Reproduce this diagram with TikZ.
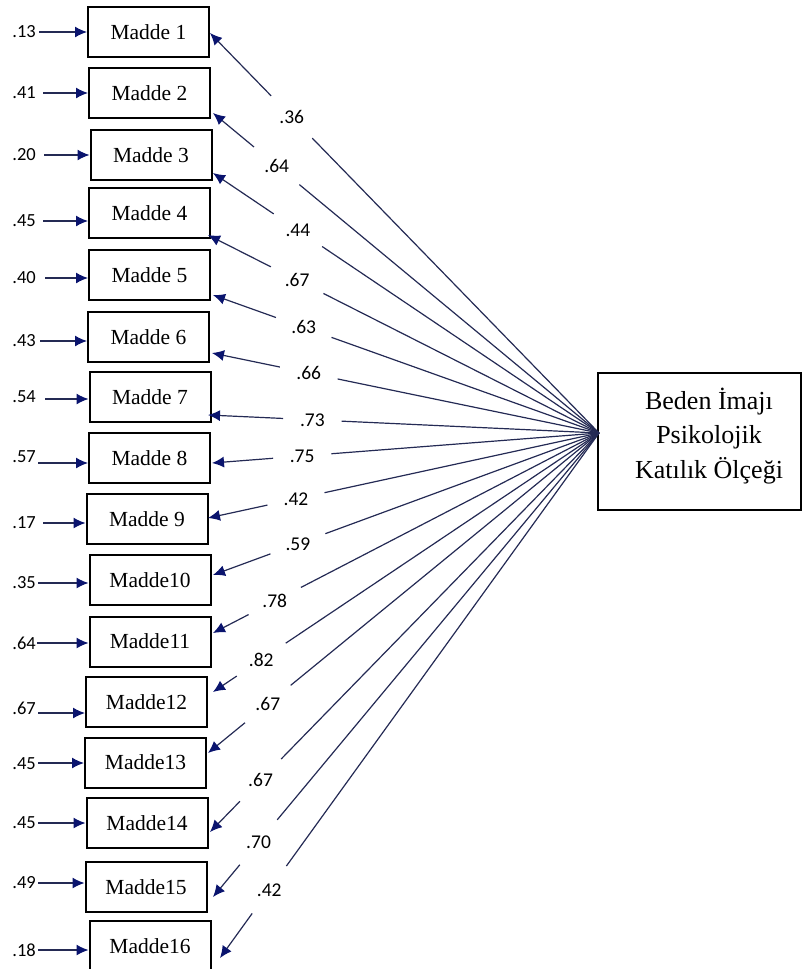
\documentclass[tikz,border=0pt]{standalone}
\usepackage{fontspec}
\setmainfont{Liberation Serif}
\newfontfamily\numfont{Carlito}
\usetikzlibrary{arrows.meta,calc}
\definecolor{lineclr}{RGB}{36,42,84}
\definecolor{tipclr}{RGB}{10,20,110}
\begin{document}
\begin{tikzpicture}[x=1pt,y=-1pt,
  item/.style={draw=black, line width=2pt, minimum width=121pt, minimum height=50pt,
    inner sep=0pt, fill=white, font=\fontsize{21.5}{24}\selectfont},
  bigbox/.style={draw=black, line width=2pt, minimum width=203pt, minimum height=137pt, inner sep=0pt},
  bigtext/.style={align=center, inner sep=0pt, font=\fontsize{26}{34.5}\selectfont},
  errlbl/.style={font=\numfont\fontsize{18.5}{20}\selectfont, anchor=east, inner sep=1pt},
  loadlbl/.style={circle, inner sep=11pt, font=\numfont\fontsize{19.5}{21}\selectfont},
  errarr/.style={draw=lineclr, line width=1.3pt, -{Latex[length=12pt,width=11pt,color=tipclr]}},
  conn/.style={draw=lineclr, line width=1.2pt},
  connarr/.style={conn, -{Latex[length=12pt,width=11pt,color=tipclr]}},
]
\useasboundingbox (0,0) rectangle (803,969);

% item boxes
\foreach \i/\x/\y/\t in {
  1/148.5/32/Madde 1, 2/149.5/93/Madde 2, 3/151/155/Madde 3, 4/149.5/213/Madde 4,
  5/149.5/275/Madde 5, 6/148.5/337/Madde 6, 7/150/397/Madde 7, 8/149.5/458/Madde 8,
  9/147/519/Madde 9, 10/150/580/Madde10, 11/150/641.5/Madde11, 12/146.5/702/Madde12,
  13/145.5/762.5/Madde13, 14/147/823/Madde14, 15/146/887/Madde15, 16/150/946/Madde16}
  \node[item] (m\i) at (\x,\y) {\t};

% latent construct
\node[bigbox] (big) at (699.5,441.5) {};
\node[bigtext] (bigt) at (709,436) {Beden İmajı\\Psikolojik\\Katılık Ölçeği};
\coordinate (C) at (599,433);

% error terms
\foreach \i/\v/\ly/\ay/\ax in {
  1/.13/32/32/39, 2/.41/93/93/43, 3/.20/155/155/44, 4/.45/221/221/43,
  5/.40/278/278/45, 6/.43/341/341/40, 7/.54/397/399/45, 8/.57/457/463/38,
  9/.17/523/523/43, 10/.35/583/583/38, 11/.64/643/643/37, 12/.67/708/713/38,
  13/.45/764/763/38, 14/.45/823/823/38, 15/.49/883/883/38, 16/.18/950/950/38}
{
  \node[errlbl] (e\i) at (37,\ly) {\v};
  \coordinate (a\i) at (\ax,\ay);
  \draw[errarr] (a\i) -- (a\i -| m\i.west);
}

% loadings
\foreach \i/\v/\ex/\ey/\t in {
  1/.36/210/33/0.21, 2/.64/213/113/0.165, 3/.44/213/173/0.22, 4/.67/208/235/0.228,
  5/.63/213/295/0.235, 6/.66/212/353/0.25, 7/.73/208/415/0.267, 8/.75/212/463/0.233,
  9/.42/208/518/0.225, 10/.59/213/575/0.22, 11/.78/213/633/0.16, 12/.82/213/692/0.125,
  13/.67/208/753/0.153, 14/.67/210/832/0.13, 15/.70/213/897/0.118, 16/.42/220/958/0.13}
{
  \coordinate (t\i) at (\ex,\ey);
  \node[loadlbl] (r\i) at ($(t\i)!\t!(C)$) {\v};
  \draw[conn] (C) -- (r\i);
  \draw[connarr] (r\i) -- (t\i);
}
\end{tikzpicture}
\end{document}
